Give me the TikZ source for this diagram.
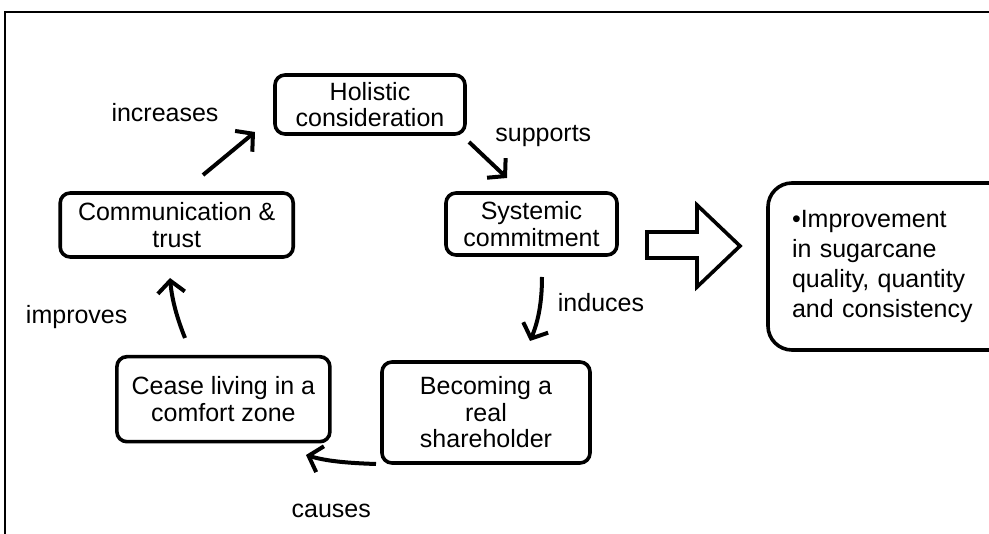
\documentclass[tikz,border=0pt]{standalone}
\usepackage{fontspec}
\setmainfont{Liberation Sans}
\usetikzlibrary{arrows.meta}
\begin{document}
\begin{tikzpicture}[x=1pt,y=-1pt,
  stage/.style={draw, line width=3.6pt, rounded corners=10pt, align=center,
    inner sep=0pt, font=\fontsize{25}{26.5}\selectfont},
  outcome/.style={draw, line width=3.6pt, rounded corners=24pt, align=left,
    text width=200pt, inner xsep=24pt, inner ysep=0pt,
    font=\fontsize{25}{30}\selectfont},
  lbl/.style={anchor=base, inner sep=0pt, font=\fontsize{25}{26}\selectfont},
  flow/.style={line width=4pt, -{Straight Barb[length=12pt,width=27pt]}},
  bigarrow/.style={draw, line width=3.6pt, miter limit=10}]
\useasboundingbox (0,0) rectangle (989,534);
\clip (0,0) rectangle (989,534);
\fill[white] (0,0) rectangle (989,534);

% open frame
\draw[line width=2pt] (4.5,540) -- (4.5,12.5) -- (995,12.5);

% cycle stages
\node[stage, minimum width=190pt, minimum height=59pt] (hol) at (370,104.5) {Holistic\\consideration};
\node[stage, minimum width=171pt, minimum height=62pt] (sys) at (531.5,224) {Systemic\\commitment};
\node[stage, minimum width=208pt, minimum height=101pt] (bec) at (486,412.5) {Becoming a\\real\\shareholder};
\node[stage, minimum width=213pt, minimum height=85pt] (cea) at (223.4,399.2) {Cease living in a\\comfort zone};
\node[stage, minimum width=233pt, minimum height=64pt] (com) at (176.7,225) {Communication \&\\trust};

% outcome box
\node[outcome, minimum height=167pt] (res) at (892,266.5) {\textbullet Improvement\\in sugarcane\\quality, quantity\\and consistency};

% arrow ends
\coordinate (supA) at (469,142);   \coordinate (supB) at (507,178);
\coordinate (indA) at (542,277);   \coordinate (indB) at (530,341);
\coordinate (cauA) at (376,464);   \coordinate (cauB) at (306,455);
\coordinate (impA) at (185,338);   \coordinate (impB) at (170,278);
\coordinate (incA) at (203,175);   \coordinate (incB) at (255,132);

% cycle arrows
\draw[flow] (supA) -- (supB);
\draw[flow] (indA) .. controls (542,303) and (538,322) .. (indB);
\draw[flow] (cauA) .. controls (346,463) and (326,461) .. (cauB);
\draw[flow] (impA) .. controls (177,318) and (172,300) .. (impB);
\draw[flow] (incA) -- (incB);

% arrow labels
\node[lbl] (tsup) at (543.3,141.7) {supports};
\node[lbl] (tind) at (601,312) {induces};
\node[lbl] (tcau) at (331.3,517.3) {causes};
\node[lbl] (timp) at (76.7,323.3) {improves};
\node[lbl] (tinc) at (165,121.7) {increases};

% block arrow towards the outcome
\draw[bigarrow] (647,232) -- (697,232) -- (697,205) -- (740,246)
  -- (697,287) -- (697,258) -- (647,258) -- cycle;
\end{tikzpicture}
\end{document}
